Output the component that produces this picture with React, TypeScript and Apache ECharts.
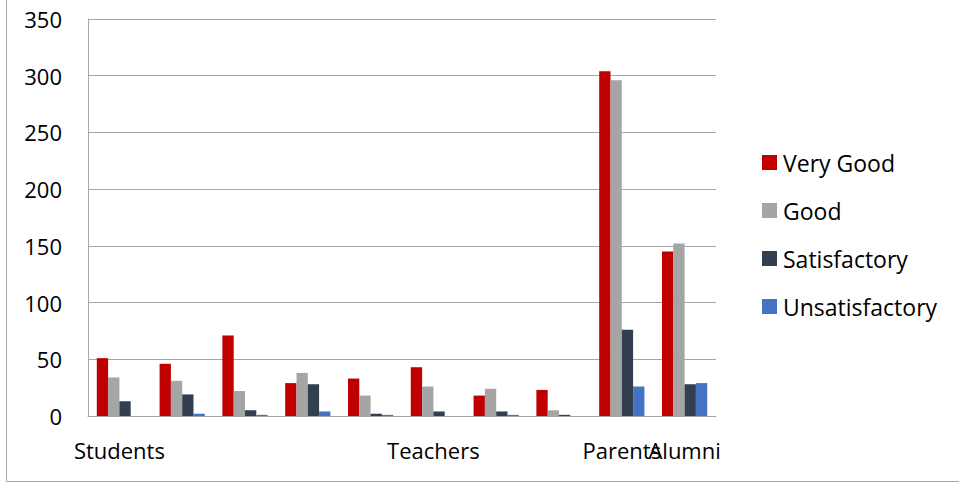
import React, { useEffect, useRef } from "react";
import * as echarts from "echarts";

const categories = ["Students", "", "", "", "", "Teachers", "", "", "Parents", "Alumni"];
const shownLabels = [0, 5, 8];
const overlapLabels = [9];
const veryGood = [51, 46, 71, 29, 33, 43, 18, 23, 304, 145];
const good = [34, 31, 22, 38, 18, 26, 24, 5, 296, 152];
const satisfactory = [13, 19, 5, 28, 2, 4, 4, 1, 76, 28];
const unsatisfactory = [0, 2, 1, 4, 1, 0, 1, 0, 26, 29];
const yTicks = { min: 0, max: 350, interval: 50 };

const FONT = "'Open Sans', 'Noto Sans', sans-serif";

export default function App() {
  const ref = useRef<HTMLDivElement>(null);
  useEffect(() => {
    document.body.style.margin = "0";
    const chart = echarts.init(ref.current!, null, { renderer: "svg" });
    const mk = (name: string, data: number[], color: string) => ({
      name,
      type: "bar",
      data,
      xAxisIndex: 0,
      barGap: "0%",
      barCategoryGap: "28%",
      itemStyle: { color },
    });
    const labelStyle = {
      hideOverlap: false,
      fontSize: 22,
      color: "#000",
      margin: 23,
      fontFamily: FONT,
    };
    chart.setOption({
      animation: false,
      backgroundColor: "#ffffff",
      textStyle: { fontFamily: FONT },
      grid: { left: 88, right: 243, top: 19, bottom: 67 },
      legend: {
        orient: "vertical",
        left: 762,
        top: 151,
        padding: 0,
        itemWidth: 15,
        itemHeight: 15,
        itemGap: 25,
        icon: "rect",
        textStyle: { fontSize: 23, color: "#000", fontFamily: FONT, padding: [0, 0, 0, 1] },
        data: ["Very Good", "Good", "Satisfactory", "Unsatisfactory"],
      },
      xAxis: [
        {
          type: "category",
          data: categories,
          axisLine: { lineStyle: { color: "#a6a6a6", width: 1 } },
          axisTick: { show: false },
          axisLabel: { ...labelStyle, interval: (i: number) => shownLabels.includes(i) },
        },
        {
          type: "category",
          position: "bottom",
          data: categories,
          axisLine: { show: false },
          axisTick: { show: false },
          splitLine: { show: false },
          axisLabel: { ...labelStyle, interval: (i: number) => overlapLabels.includes(i) },
        },
      ],
      yAxis: {
        type: "value",
        min: yTicks.min,
        max: yTicks.max,
        interval: yTicks.interval,
        axisLine: { show: true, lineStyle: { color: "#a6a6a6", width: 1 } },
        axisTick: { show: false },
        splitLine: { lineStyle: { color: "#a6a6a6", width: 1 } },
        axisLabel: { fontSize: 22, color: "#000", margin: 26, fontFamily: FONT },
      },
      graphic: [
        {
          type: "line",
          shape: { x1: 6.5, y1: 0, x2: 6.5, y2: 481.5 },
          style: { stroke: "#a6a6a6", lineWidth: 1 },
        },
        {
          type: "line",
          shape: { x1: 6.5, y1: 481.5, x2: 959, y2: 481.5 },
          style: { stroke: "#a6a6a6", lineWidth: 1 },
        },
      ],
      series: [
        mk("Very Good", veryGood, "#c00000"),
        mk("Good", good, "#a5a5a5"),
        mk("Satisfactory", satisfactory, "#323f4f"),
        mk("Unsatisfactory", unsatisfactory, "#4472c4"),
      ],
    });
    return () => chart.dispose();
  }, []);
  return <div ref={ref} style={{ width: 959, height: 483 }} />;
}
